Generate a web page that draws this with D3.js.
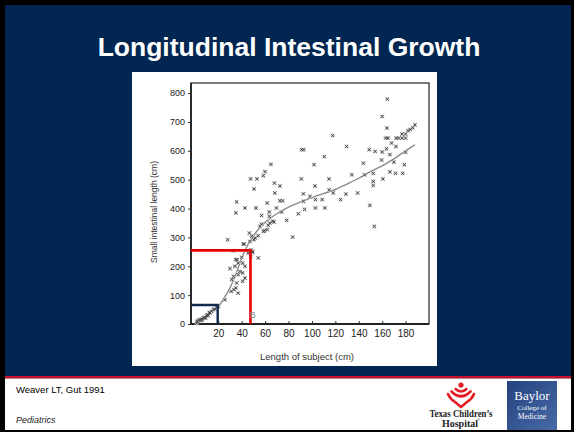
<!DOCTYPE html>
<html>
<head>
<meta charset="utf-8">
<script src="https://cdn.jsdelivr.net/npm/d3@7"></script>
<style>
  html, body { margin: 0; padding: 0; background: #000; }
  svg { display: block; }
</style>
</head>
<body>
<svg id="chart" width="574" height="432"></svg>
<script>
// ---------- DATA ----------
const titleText = "Longitudinal Intestinal Growth";
const xAxisLabel = "Length of subject (cm)";
const yAxisLabel = "Small intestinal length (cm)";
const xTickValues = [20, 40, 60, 80, 100, 120, 140, 160, 180];
const yTickValues = [0, 100, 200, 300, 400, 500, 600, 700, 800];

// scatter: length of subject (cm)
const subjectLength = [
  1.5, 2, 3, 4.4, 5.8, 6, 7.2, 8.6, 9, 10, 10.6, 11.4, 12.3, 12.9, 14.3, 15.7, 17.1, 18.6, 20,
  25.7, 28, 31, 33.5, 35, 37, 33, 31.5, 37, 35.7, 40.8, 42.8, 38.5, 40.8, 30, 34.2, 42.8, 37, 40.8,
  35, 36, 40, 33, 45.6, 47.7, 54.2, 48, 49.4, 49, 42, 41.4, 47, 50.5, 51.6, 48.5, 46.6, 54.2,
  58.5, 59.5, 61.8, 55.6, 62.7, 57, 64, 66.5, 67.6, 57, 63.6, 63.6, 61.8, 52.2, 42.8, 35.7, 35,
  47.6, 53, 50.5, 58.5, 59.9, 65, 68, 72.6, 68.3, 72.6, 75, 69.7, 74.1, 78.4, 83.5, 88.4, 93.7,
  92.7, 98.3, 103, 108.8, 103, 111, 92.7, 91, 91.2, 93, 101.8, 102.6, 110.6, 114.6, 114.8, 118.2,
  117.7, 124.5, 129, 129.6, 134, 139, 144, 145, 149, 149.5, 153.3, 152.4, 152.4, 152.4, 154,
  159.5, 160, 160, 160.6, 163.7, 164, 164.4, 163, 165, 166.6, 166.6, 168, 170, 171.4, 171.8,
  172, 174, 177, 180, 177, 180, 177.5, 179, 180, 182, 184, 186, 188
];
// scatter: small intestinal length (cm)
const intestineLength = [
  3, 9, 13, 15, 17, 12, 21, 23, 20, 28, 32, 30, 40, 38, 44, 50, 52, 58, 61,
  84, 292, 113, 119, 125, 107, 165, 154, 171, 142, 148, 159, 182, 177, 192, 200, 200, 211, 211,
  223, 223, 231, 254, 246, 234, 229, 257, 248, 252, 277, 277, 286, 292, 298, 304, 315, 306,
  321, 323, 327, 338, 342, 346, 350, 356, 353, 376, 373, 388, 419, 402, 402, 423, 385,
  503, 503, 468, 514, 528, 553, 488, 478, 454, 427, 427, 402, 388, 359, 301, 382, 397,
  425, 442, 431, 431, 402, 402, 451, 503, 604, 604, 552, 478, 580, 503, 465, 454,
  653, 431, 450, 615, 517, 454, 557, 517, 604, 411, 338, 522, 494, 480, 598,
  568, 596, 719, 503, 607, 679, 779, 644, 644, 587, 527, 627, 561, 522, 615,
  644, 644, 644, 644, 658, 658, 522, 552, 595, 670, 674, 680, 690
];

// fitted growth curve
const curveLength = [2, 8, 14, 20, 25, 30, 35, 40, 45, 50, 55, 60, 65, 70, 80, 90, 100, 110, 120, 130, 140, 150, 160, 170, 180, 188];
const curveIntestine = [1, 18, 38, 60, 90, 125, 172, 228, 272, 305, 332, 352, 368, 382, 405, 422, 438, 452, 466, 485, 505, 528, 548, 572, 600, 621];

// highlighted reference boxes: [subject length, intestine length]
const redMark = [47.5, 255];
const blueMark = [19.5, 66];
const markLabel = { text: "B", x: 49.5, y: 33 };

// footer text
const citeText = "Weaver LT, Gut 1991";
const deptText = "Pediatrics";

// ---------- DRAW ----------
const svg = d3.select("#chart");
const W = 574, H = 432;

// slide background
svg.append("rect").attr("x", 0).attr("y", 0).attr("width", W).attr("height", H).attr("fill", "#000");
svg.append("rect").attr("x", 5).attr("y", 5).attr("width", 566).attr("height", 372).attr("fill", "#012652");
svg.append("rect").attr("x", 5).attr("y", 376).attr("width", 566).attr("height", 2.5).attr("fill", "#c8102e");
svg.append("rect").attr("x", 5).attr("y", 378.5).attr("width", 566).attr("height", 51.5).attr("fill", "#fff");

// title
svg.append("text").attr("x", 289).attr("y", 56)
  .attr("text-anchor", "middle")
  .attr("font-family", "'Liberation Sans', Arial, sans-serif")
  .attr("font-weight", "bold").attr("font-size", 26.5)
  .attr("fill", "#fff").text(titleText);

// chart picture area
svg.append("rect").attr("x", 132).attr("y", 72).attr("width", 305).attr("height", 294)
  .attr("fill", "#fff");

const plot = { left: 191, right: 429, top: 83, bottom: 324 };
const x = d3.scaleLinear().domain([-3.3, 200]).range([plot.left, plot.right]);
const y = d3.scaleLinear().domain([0, 835]).range([plot.bottom, plot.top]);

const g = svg.append("g");
const tickFont = "'Liberation Sans', Arial, sans-serif";

// axes
const yAxis = d3.axisLeft(y).tickValues(yTickValues).tickSize(3).tickPadding(3);
const yg = g.append("g").attr("transform", `translate(${plot.left},0)`).call(yAxis);
yg.select(".domain").remove();
yg.selectAll("line").attr("stroke", "#333");
yg.selectAll("text").attr("font-family", tickFont).attr("font-size", 9).attr("fill", "#222");

const xAxis = d3.axisBottom(x).tickValues(xTickValues).tickSize(-3).tickPadding(6);
const xg = g.append("g").attr("transform", `translate(0,${plot.bottom})`).call(xAxis);
xg.select(".domain").remove();
xg.selectAll("line").attr("stroke", "#333");
xg.selectAll("text").attr("font-family", tickFont).attr("font-size", 10).attr("fill", "#222");

// frame
g.append("rect").attr("x", plot.left).attr("y", plot.top)
  .attr("width", plot.right - plot.left).attr("height", plot.bottom - plot.top)
  .attr("fill", "none").attr("stroke", "#333").attr("stroke-width", 1.3);
g.append("line").attr("x1", plot.left).attr("x2", plot.left).attr("y1", plot.top).attr("y2", plot.bottom)
  .attr("stroke", "#222").attr("stroke-width", 1.8);
g.append("line").attr("x1", plot.left).attr("x2", plot.right).attr("y1", plot.bottom).attr("y2", plot.bottom)
  .attr("stroke", "#222").attr("stroke-width", 1.8);

// axis labels
g.append("text").attr("x", 307).attr("y", 360).attr("text-anchor", "middle")
  .attr("font-family", tickFont).attr("font-size", 9.5).attr("fill", "#333").text(xAxisLabel);
g.append("text").attr("transform", "translate(157,212) rotate(-90)").attr("text-anchor", "middle")
  .attr("font-family", tickFont).attr("font-size", 8.5).attr("fill", "#333").text(yAxisLabel);

// curve
const curvePts = curveLength.map((v, i) => [v, curveIntestine[i]]);
g.append("path").datum(curvePts)
  .attr("d", d3.line().x(d => x(d[0])).y(d => y(d[1])).curve(d3.curveMonotoneX))
  .attr("fill", "none").attr("stroke", "#8a8a8a").attr("stroke-width", 1.4);

// scatter markers
const pts = subjectLength.map((v, i) => [v, intestineLength[i]]);
const mk = g.append("g");
const s = 1.6;
mk.selectAll("rect").data(pts).join("rect")
  .attr("x", d => x(d[0]) - 2).attr("y", d => y(d[1]) - 2)
  .attr("width", 4).attr("height", 4)
  .attr("fill", "#d6d6d6").attr("opacity", 0.8);
mk.selectAll("path").data(pts).join("path")
  .attr("d", d => {
    const cx = x(d[0]), cy = y(d[1]);
    return `M${cx - s},${cy - s}L${cx + s},${cy + s}M${cx - s},${cy + s}L${cx + s},${cy - s}`;
  })
  .attr("stroke", "#3a3a3a").attr("stroke-width", 0.9).attr("fill", "none");

// highlight boxes
g.append("path")
  .attr("d", `M${x(-3.3)},${y(redMark[1])}H${x(redMark[0])}V${plot.bottom}`)
  .attr("fill", "none").attr("stroke", "#e60000").attr("stroke-width", 2.6);
g.append("path")
  .attr("d", `M${x(-3.3)},${y(blueMark[1])}H${x(blueMark[0])}V${plot.bottom}`)
  .attr("fill", "none").attr("stroke", "#14284f").attr("stroke-width", 2.4);
g.append("text").attr("x", x(markLabel.x)).attr("y", y(markLabel.y)).attr("dy", "0.35em")
  .attr("text-anchor", "middle").attr("font-family", tickFont).attr("font-size", 9)
  .attr("fill", "#888").text(markLabel.text);

// footer text
svg.append("text").attr("x", 16).attr("y", 393).attr("font-family", tickFont)
  .attr("font-size", 9.5).attr("fill", "#000").text(citeText);
svg.append("text").attr("x", 16).attr("y", 423).attr("font-family", tickFont)
  .attr("font-size", 9).attr("font-style", "italic").attr("fill", "#222").text(deptText);

// Texas Children's logo
const logo = svg.append("g").attr("fill", "none").attr("stroke", "#e31b23").attr("stroke-linecap", "round");
svg.append("circle").attr("cx", 461).attr("cy", 385).attr("r", 2.6).attr("fill", "#e31b23");
logo.append("path").attr("d", "M455.5,389 Q461,394 466.5,389").attr("stroke-width", 2.4);
logo.append("path").attr("d", "M451.5,391.5 Q461,401 470.5,391.5").attr("stroke-width", 2.6);
logo.append("path").attr("d", "M448,394 Q450,399 455,402 L461,407 L467,402 Q472,399 474,394").attr("stroke-width", 2.6).attr("stroke-linejoin", "round");
svg.append("text").attr("x", 461).attr("y", 416.5).attr("text-anchor", "middle")
  .attr("font-family", "'Liberation Serif', 'Times New Roman', serif").attr("font-weight", "bold")
  .attr("font-size", 10).attr("textLength", 63).attr("lengthAdjust", "spacingAndGlyphs")
  .attr("fill", "#222").text("Texas Children\u2019s");
svg.append("text").attr("x", 460).attr("y", 427).attr("text-anchor", "middle")
  .attr("font-family", "'Liberation Serif', 'Times New Roman', serif").attr("font-weight", "bold")
  .attr("font-size", 10).attr("fill", "#222").text("Hospital");
svg.append("text").attr("x", 477).attr("y", 421).attr("font-family", "'Liberation Serif', serif")
  .attr("font-size", 4).attr("fill", "#222").text("\u00AE");

// Baylor logo
const defs = svg.append("defs");
const grad = defs.append("linearGradient").attr("id", "bgrad").attr("x1", 0).attr("y1", 0).attr("x2", 1).attr("y2", 1);
grad.append("stop").attr("offset", "0%").attr("stop-color", "#23427e");
grad.append("stop").attr("offset", "100%").attr("stop-color", "#4a6ba8");
svg.append("rect").attr("x", 507).attr("y", 381).attr("width", 50).attr("height", 51).attr("fill", "url(#bgrad)");
const serif = "'Liberation Serif', 'Times New Roman', serif";
svg.append("text").attr("x", 532).attr("y", 400).attr("text-anchor", "middle").attr("font-family", serif)
  .attr("font-size", 13).attr("fill", "#fff").text("Baylor");
svg.append("text").attr("x", 532).attr("y", 410).attr("text-anchor", "middle").attr("font-family", serif)
  .attr("font-size", 7).attr("fill", "#fff").text("College of");
svg.append("text").attr("x", 532).attr("y", 418.5).attr("text-anchor", "middle").attr("font-family", serif)
  .attr("font-size", 7.5).attr("fill", "#fff").text("Medicine");

// bottom black edge
svg.append("rect").attr("x", 0).attr("y", 430).attr("width", W).attr("height", 2).attr("fill", "#000");
</script>
</body>
</html>
